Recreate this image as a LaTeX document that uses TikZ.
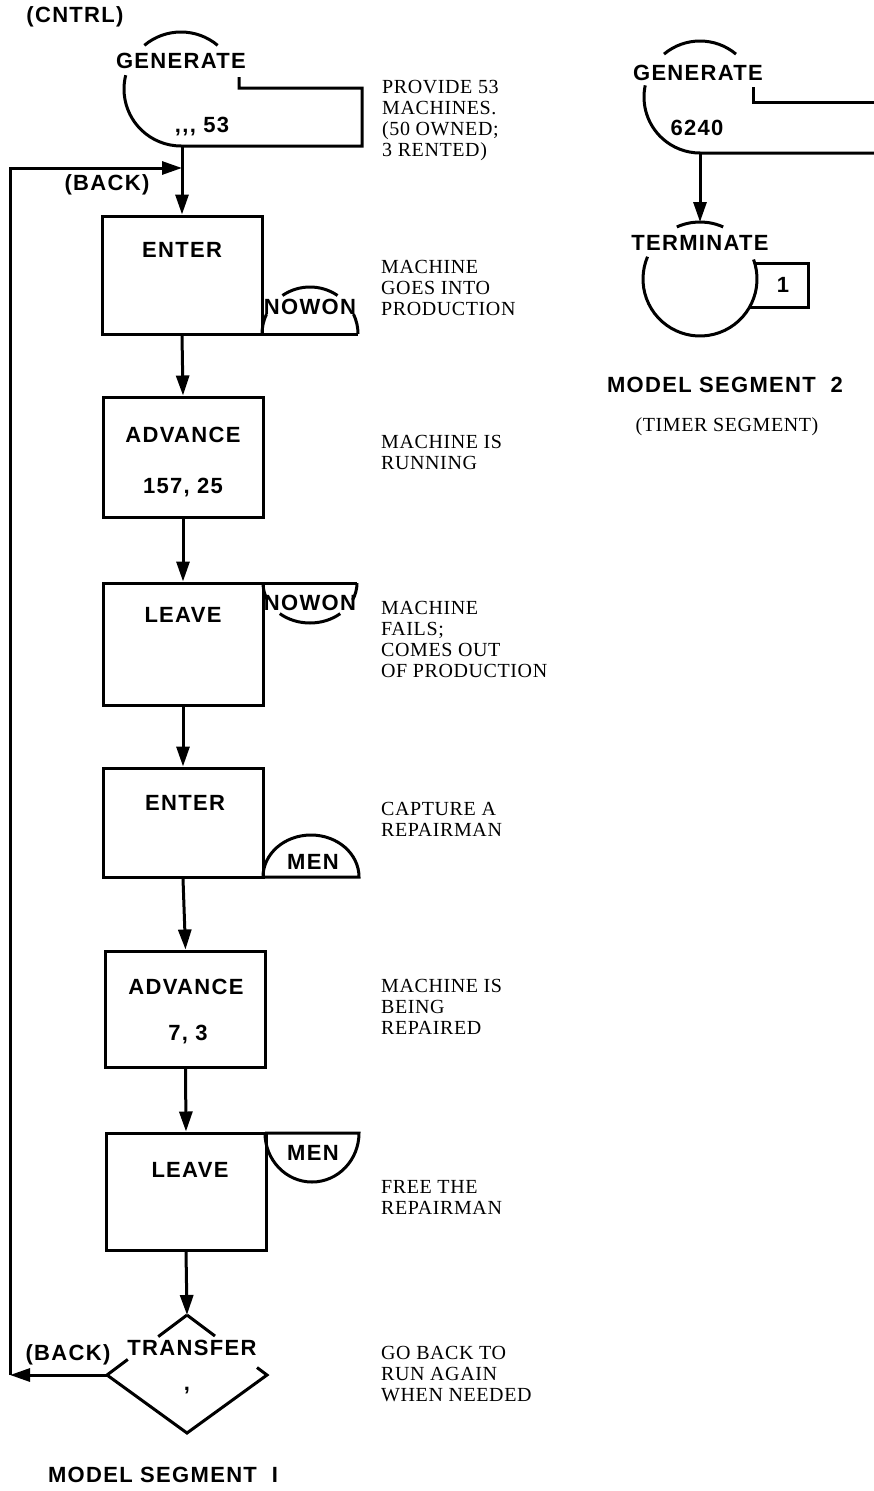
\documentclass[tikz,border=0pt]{standalone}
\usepackage{fontspec}
\usetikzlibrary{arrows.meta,calc}
\newfontfamily\labfont[LetterSpace=6]{Liberation Sans}
\newfontfamily\notefont[LetterSpace=3]{Liberation Serif}
\tikzset{
  ln/.style={line width=3pt},
  arr/.style={ln,-{Triangle[length=20pt,width=13pt]}},
  blk/.style={draw,ln,minimum width=160pt,inner sep=0pt},
  lab/.style={font=\labfont\bfseries\fontsize{22}{25}\selectfont,inner sep=0pt},
  note/.style={font=\notefont\fontsize{20}{21}\selectfont,align=left,anchor=north west,inner sep=0pt},
}
\begin{document}
\begin{tikzpicture}[x=1pt,y=-1pt]
\useasboundingbox (0,0) rectangle (874,1491);

% ---------- Segment 1 ----------
\node[lab] (cntrl) at (75,17) {(CNTRL)};
% GENERATE symbol
\draw[ln] ([shift={(50:57pt)}]181,89) arc[start angle=50,end angle=130,radius=57pt];
\draw[ln] ([shift={(166:57pt)}]181,89) arc[start angle=166,end angle=270,radius=57pt]
   -- (362,146) -- (362,88) -- (239,88) -- (239,77);
\node[lab] (gen1t) at (181,61) {GENERATE};
\node[lab] (gen1p) at (202,127) {,,, 53};
\coordinate (gen1b) at (182,146);

% blocks
\node[blk,minimum height=118pt] (enter1) at (182,275) {};
\node[lab] (enter1t) at (182,250) {ENTER};
\node[blk,minimum height=120pt] (adv1) at (183,457) {};
\node[lab] (adv1t) at (183,435) {ADVANCE};
\node[lab] (adv1p) at (183,488) {157, 25};
\node[blk,minimum height=122pt] (leave1) at (183,644) {};
\node[lab] (leave1t) at (183,615) {LEAVE};
\node[blk,minimum height=109pt] (enter2) at (183,822.5) {};
\node[lab] (enter2t) at (185,803) {ENTER};
\node[blk,minimum height=116pt] (adv2) at (185.5,1009) {};
\node[lab] (adv2t) at (186,987) {ADVANCE};
\node[lab] (adv2p) at (188,1035) {7, 3};
\node[blk,minimum height=117pt] (leave2) at (186,1191.5) {};
\node[lab] (leave2t) at (190,1170) {LEAVE};

% storage symbols
\draw[ln] (262,334) -- (358,334);
\draw[ln] ([shift={(180:48pt and 47pt)}]310,334) arc[start angle=180,end angle=155,x radius=48pt,y radius=47pt];
\draw[ln] ([shift={(125:48pt and 47pt)}]310,334) arc[start angle=125,end angle=55,x radius=48pt,y radius=47pt];
\draw[ln] ([shift={(25:48pt and 47pt)}]310,334) arc[start angle=25,end angle=0,x radius=48pt,y radius=47pt];
\node[lab] (nowon1) at (310,307) {NOWON};

\draw[ln] (263,583) -- (357,583);
\draw[ln] ([shift={(180:47pt and 40pt)}]310,583) arc[start angle=180,end angle=205,x radius=47pt,y radius=40pt];
\draw[ln] ([shift={(230:47pt and 40pt)}]310,583) arc[start angle=230,end angle=310,x radius=47pt,y radius=40pt];
\draw[ln] ([shift={(335:47pt and 40pt)}]310,583) arc[start angle=335,end angle=360,x radius=47pt,y radius=40pt];
\node[lab] (nowon2) at (310,603) {NOWON};

\draw[ln] (263,877) -- (359,877) arc[start angle=0,end angle=180,x radius=48pt,y radius=42pt];
\node[lab] (men1) at (313,862) {MEN};

\draw[ln] (265,1133) -- (359,1133) arc[start angle=0,end angle=-180,x radius=47pt,y radius=49pt];
\node[lab] (men2) at (313,1153) {MEN};

% TRANSFER
\coordinate (trT) at (187,1315);
\coordinate (trL) at (107,1375);
\coordinate (trR) at (267,1375);
\coordinate (trB) at (187,1433);
\draw[ln] (trT) -- ($(trT)!0.36!(trL)$);
\draw[ln] (trT) -- ($(trT)!0.35!(trR)$);
\draw[ln] ($(trL)!0.26!(trT)$) -- (trL) -- (trB) -- (trR) -- ($(trR)!0.125!(trT)$);
\node[lab] (trt) at (192,1348) {TRANSFER};
\node[lab] (trp) at (187,1391) {,};
\node[lab] (back2) at (68,1355) {(BACK)};
\node[lab] (back1) at (107,185) {(BACK)};

% flow connectors
\draw[arr] (gen1b) -- (enter1.north);
\draw[arr] (enter1.south) -- (adv1.north);
\draw[arr] (adv1.south) -- (leave1.north);
\draw[arr] (leave1.south) -- (enter2.north);
\draw[arr] (enter2.south) -- (adv2.north);
\draw[arr] (adv2.south) -- (leave2.north);
\draw[arr] (leave2.south) -- (trT);
\coordinate (bl) at (10,1375);
\coordinate (tl) at (10,168);
\coordinate (jn) at (182,168);
\draw[arr] (trL) -- (bl);
\draw[arr] (bl) -- (tl) -- (jn);

% notes
\node[note] (n1) at (382,80.5) {PROVIDE 53\\MACHINES.\\(50 OWNED;\\3 RENTED)};
\node[note] (n2) at (381,260.5) {MACHINE\\GOES INTO\\PRODUCTION};
\node[note] (n3) at (381,435.5) {MACHINE IS\\RUNNING};
\node[note] (n4) at (381,601.5) {MACHINE\\FAILS;\\COMES OUT\\OF PRODUCTION};
\node[note] (n5) at (381,802) {CAPTURE A\\REPAIRMAN};
\node[note] (n6) at (381,979) {MACHINE IS\\BEING\\REPAIRED};
\node[note] (n7) at (381,1180) {FREE THE\\REPAIRMAN};
\node[note] (n8) at (381,1346) {GO BACK TO\\RUN AGAIN\\WHEN NEEDED};

\node[lab] (ms1) at (163,1475) {MODEL SEGMENT\ \ I};

% ---------- Segment 2 ----------
\draw[ln] ([shift={(50:56pt)}]700,97) arc[start angle=50,end angle=130,radius=56pt];
\draw[ln] ([shift={(168:56pt)}]700,97) arc[start angle=168,end angle=270,radius=56pt] -- (874,153);
\draw[ln] (753,87) -- (753,102) -- (874,102);
\node[lab] (gen2t) at (698,73) {GENERATE};
\node[lab] (gen2p) at (697,128) {6240};
\coordinate (gen2b) at (700,153);
\coordinate (termT) at (700,222);
\draw[arr] (gen2b) -- (termT);
\draw[ln] ([shift={(66:57pt)}]700,279) arc[start angle=66,end angle=114,radius=57pt];
\draw[ln] ([shift={(20:57pt)}]700,279) arc[start angle=20,end angle=-203,radius=57pt];
\draw[ln] (755,263) -- (808,263) -- (808,307) -- (750,307);
\node[lab] (termt) at (700,243) {TERMINATE};
\node[lab] (one) at (783,285) {1};
\node[lab] (ms2) at (725,385) {MODEL SEGMENT\ \ 2};
\node[note,anchor=center] (timer) at (727,427) {(TIMER SEGMENT)};
\end{tikzpicture}
\end{document}
